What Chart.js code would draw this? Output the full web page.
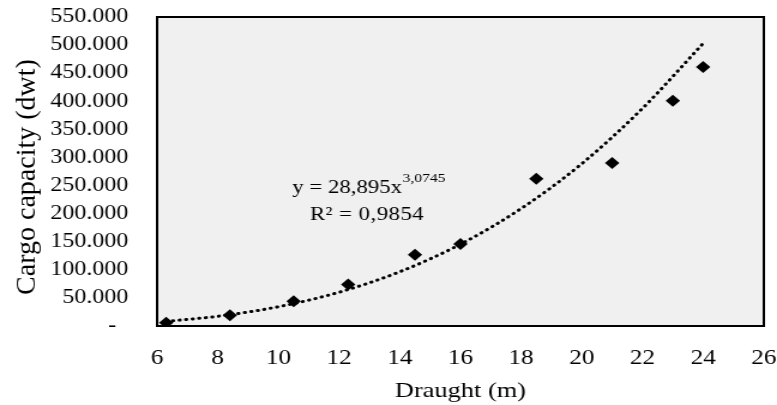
<!DOCTYPE html>
<html>
<head>
<meta charset="utf-8">
<script src="https://cdn.jsdelivr.net/npm/chart.js@4/dist/chart.umd.min.js"></script>
<style>
    html, body { margin: 0; padding: 0; background: #fff; overflow: hidden; }
    /* the source picture is stretched sideways, so draw narrower and stretch */
    #wrap { width: 648px; height: 405px; transform: scaleX(1.1991); transform-origin: 0 0; }
</style>
</head>
<body>
<div id="wrap"><canvas id="chart"></canvas></div>
<script>
const STRETCH = 1.1991;

const draught = [6.3, 8.4, 10.5, 12.3, 14.5, 16.0, 18.5, 21.0, 23.0, 24.0];
const capacity = [6000, 19000, 44000, 74000, 127000, 146000, 262000, 290000, 401000, 461000];

// dotted power trendline
const trendX = [6.3, 8, 10, 12, 14, 16, 18, 20, 22, 24];
const trendY = [8300, 17300, 34300, 60100, 96600, 145600, 209100, 289000, 387400, 503000];

const yTitle = 'Cargo capacity (dwt)';
const xTitle = 'Draught (m)';
const equationText = 'y = 28,895x';
const exponentText = '3,0745';
const r2Text = 'R² = 0,9854';

const FONT = "'Liberation Serif', 'Times New Roman', serif";

const toPoints = (xs, ys) => xs.map((x, i) => ({ x, y: ys[i] }));

const thousands = v => String(v).replace(/\B(?=(\d{3})+(?!\d))/g, '.');

const plotFrame = {
    id: 'plotFrame',
    beforeDatasetsDraw(chart) {
        const { ctx, chartArea: a } = chart;
        ctx.save();
        ctx.fillStyle = '#f0f0f0';
        ctx.fillRect(a.left, a.top, a.right - a.left, a.bottom - a.top);
        ctx.restore();
    },
    afterDatasetsDraw(chart) {
        const { ctx, chartArea: a } = chart;
        ctx.save();
        ctx.strokeStyle = '#000';
        ctx.lineWidth = 2;
        ctx.strokeRect(a.left, a.top, a.right - a.left, a.bottom - a.top);
        ctx.restore();
    }
};

// rotated y title, drawn narrower so the stretch does not widen it
const sideTitle = {
    id: 'sideTitle',
    afterDraw(chart) {
        const { ctx } = chart;
        ctx.save();
        ctx.translate(22.5, 177);
        ctx.scale(1 / STRETCH, 1);
        ctx.rotate(-Math.PI / 2);
        ctx.fillStyle = '#000';
        ctx.font = `28px ${FONT}`;
        ctx.textAlign = 'center';
        ctx.textBaseline = 'middle';
        ctx.fillText(yTitle, 0, 0);
        ctx.restore();
    }
};

const equationLabel = {
    id: 'equationLabel',
    afterDraw(chart) {
        const { ctx, scales: { x, y } } = chart;
        ctx.save();
        ctx.fillStyle = '#000';
        ctx.textBaseline = 'alphabetic';
        ctx.textAlign = 'left';
        ctx.font = `19px ${FONT}`;
        const ex = x.getPixelForValue(10.46);
        const ey = y.getPixelForValue(236200);
        ctx.fillText(equationText, ex, ey);
        const w = ctx.measureText(equationText).width;
        ctx.font = `13px ${FONT}`;
        ctx.fillText(exponentText, ex + w + 0.5, ey - 11);
        ctx.font = `19px ${FONT}`;
        ctx.letterSpacing = '0.4px';
        ctx.fillText(r2Text, x.getPixelForValue(11.04), y.getPixelForValue(188700));
        ctx.restore();
    }
};

new Chart(document.getElementById('chart'), {
    type: 'scatter',
    data: {
        datasets: [
            {
                label: 'Cargo capacity',
                data: toPoints(draught, capacity),
                pointStyle: 'rectRot',
                pointRadius: 6,
                backgroundColor: '#000',
                borderColor: '#000',
                borderWidth: 0,
                order: 1
            },
            {
                label: 'Power trend',
                data: toPoints(trendX, trendY),
                showLine: true,
                pointRadius: 0,
                borderColor: '#000',
                borderWidth: 3,
                borderDash: [0.5, 5],
                borderCapStyle: 'round',
                cubicInterpolationMode: 'monotone',
                order: 2
            }
        ]
    },
    options: {
        responsive: true,
        maintainAspectRatio: false,
        animation: false,
        layout: { padding: { top: 17, right: 11, bottom: 0, left: 0 } },
        plugins: {
            legend: { display: false },
            tooltip: { enabled: false }
        },
        scales: {
            x: {
                type: 'linear',
                min: 6,
                max: 26,
                grid: { display: false, drawTicks: false },
                border: { display: false },
                ticks: {
                    stepSize: 2,
                    padding: 20,
                    color: '#000',
                    font: { family: FONT, size: 21 }
                },
                title: {
                    display: true,
                    text: xTitle,
                    color: '#000',
                    font: { family: FONT, size: 22 },
                    padding: { top: 0, bottom: 1 }
                },
                afterFit(scale) {
                    scale.height = 79;
                    scale.paddingLeft = 0;
                    scale.paddingRight = 0;
                }
            },
            y: {
                type: 'linear',
                min: 0,
                max: 550000,
                grid: { display: false, drawTicks: false },
                border: { display: false },
                ticks: {
                    stepSize: 50000,
                    autoSkip: false,
                    padding: 24,
                    color: '#000',
                    font: { family: FONT, size: 20 },
                    callback: v => v === 0 ? '-  ' : thousands(v)
                },
                title: { display: false },
                afterFit(scale) {
                    scale.width = 131;
                    scale.paddingTop = 0;
                    scale.paddingBottom = 0;
                }
            }
        }
    },
    plugins: [plotFrame, sideTitle, equationLabel]
});
</script>
</body>
</html>
